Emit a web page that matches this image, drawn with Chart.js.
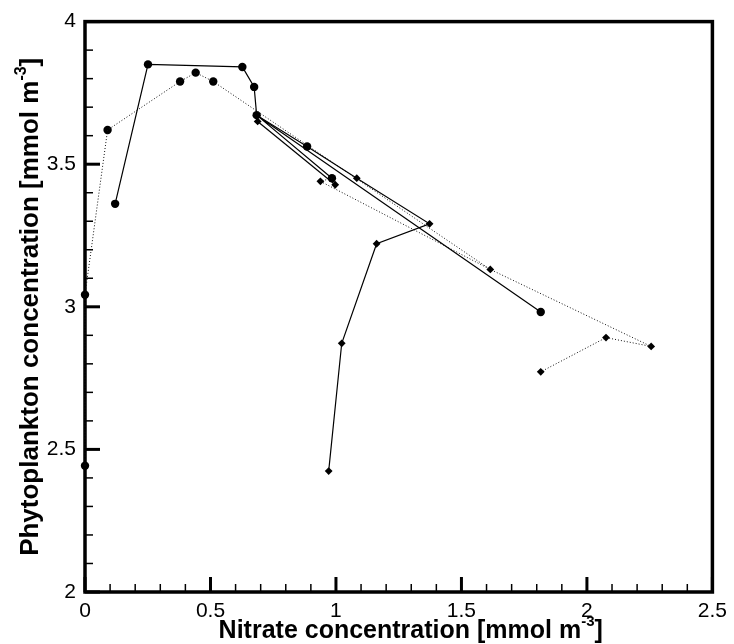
<!DOCTYPE html>
<html>
<head>
<meta charset="utf-8">
<script src="https://cdn.jsdelivr.net/npm/chart.js@4.4.0/dist/chart.umd.min.js"></script>
<style>
  html, body { margin: 0; padding: 0; background: #fff; }
</style>
</head>
<body>
<canvas id="canvas" width="734" height="644"></canvas>
<script>
// axis ticks
const xTicks = [0, 0.5, 1, 1.5, 2, 2.5]
const yTicks = [2, 2.5, 3, 3.5, 4]

// marker positions (nitrate, phytoplankton)
const circleX = [0, 0, 0.09, 0.12, 0.251, 0.379, 0.441, 0.511, 0.627, 0.674, 0.684, 0.885, 0.984, 1.816]
const circleY = [2.443, 3.042, 3.62, 3.361, 3.85, 3.79, 3.821, 3.79, 3.841, 3.771, 3.672, 3.562, 3.451, 2.982]
const diamondX = [0.688, 0.938, 0.997, 1.083, 1.373, 1.162, 1.023, 0.971, 1.615, 2.256, 2.076, 1.816]
const diamondY = [3.65, 3.44, 3.428, 3.451, 3.291, 3.221, 2.872, 2.424, 3.131, 2.861, 2.892, 2.772]

// solid trajectories
const solid1X = [0.12, 0.251, 0.627, 0.674, 0.684, 0.885, 1.083, 1.373, 1.162, 1.023, 0.971]
const solid1Y = [3.361, 3.85, 3.841, 3.771, 3.672, 3.562, 3.451, 3.291, 3.221, 2.872, 2.424]
const solid2X = [1.816, 0.684, 0.984]
const solid2Y = [2.982, 3.672, 3.451]
const solid3X = [0.688, 0.997]
const solid3Y = [3.65, 3.428]

// dotted trajectories
const dotted1X = [0, 0, 0.09, 0.379, 0.441, 0.511, 1.615, 2.256, 2.076, 1.816]
const dotted1Y = [2.443, 3.042, 3.62, 3.79, 3.821, 3.79, 3.131, 2.861, 2.892, 2.772]
const dotted2X = [0.984, 0.938, 1.615]
const dotted2Y = [3.451, 3.44, 3.131]

function pts(xs, ys) {
    return xs.map((x, i) => ({ x: x, y: ys[i] }))
}

function lineSet(xs, ys, dash) {
    return {
        data: pts(xs, ys),
        showLine: true,
        borderColor: dash ? '#111' : '#000',
        borderWidth: dash ? 1 : 1.2,
        borderDash: dash ? [1, 2] : [],
        pointRadius: 0,
        clip: false
    }
}

const FONT = '"Liberation Sans", Arial, sans-serif'
Chart.defaults.font.family = FONT
Chart.defaults.color = '#000'

// frame + inward ticks, titles with superscript
const frame = {
    id: 'frame',
    beforeDatasetsDraw(chart) {
        const ctx = chart.ctx
        const a = chart.chartArea
        const xs = chart.scales.x, ys = chart.scales.y
        ctx.save()
        ctx.strokeStyle = '#000'
        ctx.lineCap = 'butt'
        // minor ticks every 0.1
        ctx.lineWidth = 1.5
        for (let i = 1; i < 25; i++) {
            if (i % 5 === 0) continue
            const px = xs.getPixelForValue(i / 10)
            ctx.beginPath(); ctx.moveTo(px, a.bottom); ctx.lineTo(px, a.bottom - 8); ctx.stroke()
        }
        for (let i = 21; i < 40; i++) {
            if (i % 5 === 0) continue
            const py = ys.getPixelForValue(i / 10)
            ctx.beginPath(); ctx.moveTo(a.left, py); ctx.lineTo(a.left + 8, py); ctx.stroke()
        }
        // major ticks
        ctx.lineWidth = 3
        xTicks.forEach(v => {
            const px = xs.getPixelForValue(v)
            ctx.beginPath(); ctx.moveTo(px, a.bottom); ctx.lineTo(px, a.bottom - 15); ctx.stroke()
        })
        yTicks.forEach(v => {
            const py = ys.getPixelForValue(v)
            ctx.beginPath(); ctx.moveTo(a.left, py); ctx.lineTo(a.left + 15, py); ctx.stroke()
        })
        ctx.lineWidth = 3.5
        ctx.strokeRect(a.left, a.top, a.right - a.left, a.bottom - a.top)
        ctx.restore()
    },
    afterDraw(chart) {
        const ctx = chart.ctx
        const a = chart.chartArea
        drawTitle(ctx, 'Nitrate concentration [mmol m', '-3', ']', (a.left + a.right) / 2 + 12, 638, false, 25)
        drawTitle(ctx, 'Phytoplankton concentration [mmol m', '-3', ']', 38, (a.top + a.bottom) / 2, true, 26)
    }
}

function drawTitle(ctx, main, sup, tail, cx, cy, rotated, size) {
    const big = 'bold ' + size + 'px ' + FONT
    const small = 'bold ' + Math.round(size * 0.6) + 'px ' + FONT
    ctx.save()
    ctx.fillStyle = '#000'
    ctx.textBaseline = 'alphabetic'
    ctx.textAlign = 'left'
    ctx.font = big
    const w1 = ctx.measureText(main).width
    const w3 = ctx.measureText(tail).width
    ctx.font = small
    const w2 = ctx.measureText(sup).width
    const total = w1 + w2 + w3
    ctx.translate(cx, cy)
    if (rotated) ctx.rotate(-Math.PI / 2)
    let x = -total / 2
    ctx.font = big
    ctx.fillText(main, x, 0)
    x += w1
    ctx.font = small
    ctx.fillText(sup, x, -size * 0.48)
    x += w2
    ctx.font = big
    ctx.fillText(tail, x, 0)
    ctx.restore()
}

const markerOpts = {
    showLine: false,
    pointBackgroundColor: '#000',
    pointBorderWidth: 0,
    clip: false
}

const config = {
    type: 'scatter',
    data: {
        datasets: [
            lineSet(solid1X, solid1Y, false),
            lineSet(solid2X, solid2Y, false),
            lineSet(solid3X, solid3Y, false),
            lineSet(dotted1X, dotted1Y, true),
            lineSet(dotted2X, dotted2Y, true),
            Object.assign({ data: pts(circleX, circleY), pointStyle: 'circle', pointRadius: 4.2 }, markerOpts),
            Object.assign({ data: pts(diamondX, diamondY), pointStyle: 'rectRot', pointRadius: 3.9 }, markerOpts)
        ]
    },
    plugins: [frame],
    options: {
        responsive: false,
        animation: false,
        layout: { padding: { top: 14, right: 18, left: 0, bottom: 0 } },
        plugins: { legend: { display: false }, tooltip: { enabled: false } },
        scales: {
            x: {
                type: 'linear', min: 0, max: 2.5,
                grid: { display: false, drawTicks: false },
                border: { display: false },
                afterBuildTicks: s => { s.ticks = xTicks.map(v => ({ value: v })) },
                afterFit: s => { s.height = 52 },
                ticks: { padding: 7, font: { size: 21 }, maxRotation: 0, callback: v => String(v) }
            },
            y: {
                type: 'linear', min: 2, max: 4,
                grid: { display: false, drawTicks: false },
                border: { display: false },
                afterBuildTicks: s => { s.ticks = yTicks.map(v => ({ value: v })) },
                afterFit: s => { s.width = 85 },
                ticks: { padding: 9, font: { size: 21 }, callback: v => String(v) }
            }
        }
    }
}

const myChart = new Chart(document.getElementById('canvas').getContext('2d'), config)
</script>
</body>
</html>
